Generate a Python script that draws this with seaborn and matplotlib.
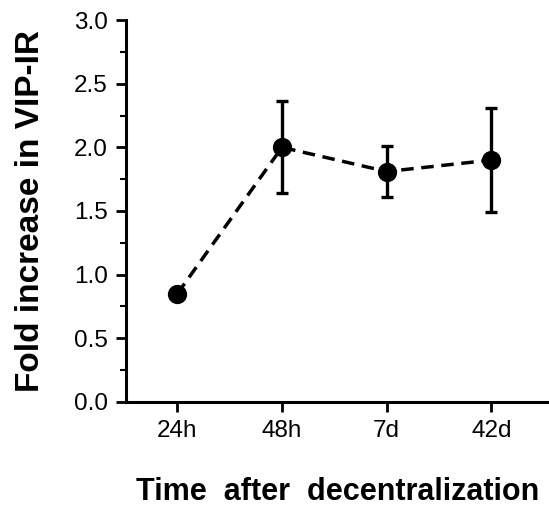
import seaborn as sns
import pandas as pd
import numpy as np
import matplotlib.pyplot as plt
from matplotlib.ticker import MultipleLocator

times = ["24h", "48h", "7d", "42d"]
fold = [0.85, 2.00, 1.81, 1.90]
sem = [0.03, 0.36, 0.20, 0.41]

df = pd.DataFrame({"time": times, "fold": fold, "sem": sem})

sns.set_style("ticks", {"axes.edgecolor": "black", "xtick.color": "black",
                        "ytick.color": "black", "text.color": "black",
                        "axes.labelcolor": "black"})
plt.rcParams['font.family'] = ['Liberation Sans', 'DejaVu Sans']

fig = plt.figure(figsize=(5.49, 5.13), dpi=100)
ax = fig.add_axes([0.2295, 0.2164, 0.7705, 0.7446])

sns.pointplot(data=df, x="time", y="fold", color="black", errorbar=None,
              linestyles="--", markers="o", markersize=12, linewidth=2.5, ax=ax)
for ln in ax.lines:
    ln.set_dashes([3.6, 2.2])
    ln.set_zorder(3)

# error bars from the table
ax.errorbar(np.arange(len(times)), df["fold"], yerr=df["sem"], fmt="none",
            ecolor="black", elinewidth=2.4, capsize=4.2, capthick=2.4, zorder=2)

ax.set_xlim(-0.49, 3.55)
ax.set_ylim(0, 3.0)
ax.yaxis.set_major_locator(MultipleLocator(0.5))
ax.yaxis.set_minor_locator(MultipleLocator(0.25))
ax.yaxis.set_major_formatter(plt.FormatStrFormatter("%.1f"))

sns.despine(ax=ax)
for s in ["left", "bottom"]:
    ax.spines[s].set_linewidth(2.2)
ax.tick_params(axis="both", which="major", direction="out", length=7, width=2,
               labelsize=17.5, pad=6)
ax.tick_params(axis="y", which="minor", direction="out", length=4, width=1.5)

ax.set_xlabel("Time  after  decentralization", fontsize=22, fontweight="bold", labelpad=25)
ax.set_ylabel("Fold increase in VIP-IR", fontsize=24, fontweight="bold", labelpad=20)

fig.savefig("out.png", dpi=100)
